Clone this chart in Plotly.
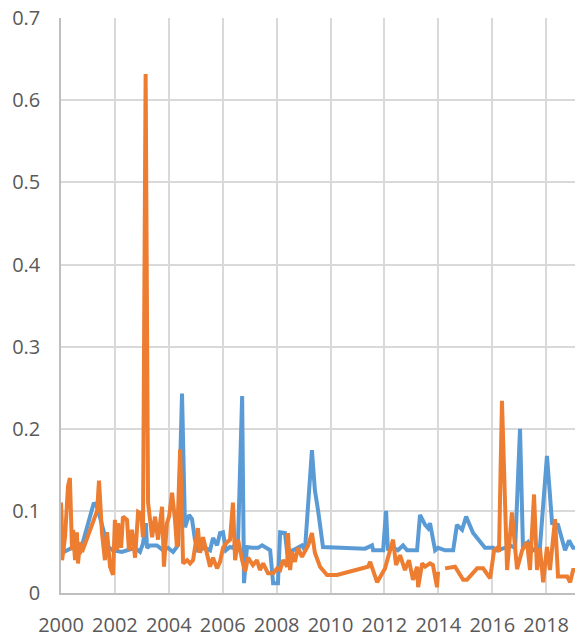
import plotly.graph_objects as go

blue_x = [2000.00, 2000.04, 2000.11, 2000.22, 2000.41, 2000.71, 2001.22, 2001.34, 2001.74, 2001.93,
          2002.26, 2002.75, 2002.93, 2003.04, 2003.15, 2003.19, 2003.30, 2003.56, 2003.79, 2003.97,
          2004.16, 2004.34, 2004.49, 2004.60, 2004.75, 2004.86, 2004.97, 2005.08, 2005.34, 2005.53,
          2005.64, 2005.79, 2005.90, 2006.01, 2006.12, 2006.27, 2006.38, 2006.57, 2006.72, 2006.79,
          2006.90, 2007.09, 2007.31, 2007.46, 2007.64, 2007.76, 2007.87, 2008.05, 2008.13, 2008.31,
          2008.39, 2008.61, 2008.94, 2009.05, 2009.31, 2009.42, 2009.54, 2009.72, 2011.28, 2011.54,
          2011.58, 2011.95, 2012.06, 2012.13, 2012.28, 2012.50, 2012.69, 2012.84, 2013.21, 2013.32,
          2013.51, 2013.62, 2013.69, 2013.88, 2013.99, 2014.25, 2014.55, 2014.69, 2014.88, 2015.03,
          2015.29, 2015.73, 2016.03, 2016.18, 2016.47, 2016.66, 2016.85, 2017.03, 2017.14, 2017.33,
          2017.51, 2017.77, 2018.03, 2018.22, 2018.44, 2018.70, 2018.85, 2019.00, 2019.07]
blue_y = [0.110, 0.065, 0.050, 0.052, 0.055, 0.050, 0.110, 0.105, 0.056, 0.052,
          0.050, 0.055, 0.050, 0.060, 0.085, 0.055, 0.058, 0.058, 0.052, 0.055,
          0.050, 0.058, 0.243, 0.080, 0.095, 0.090, 0.065, 0.052, 0.055, 0.052,
          0.067, 0.058, 0.073, 0.074, 0.052, 0.056, 0.055, 0.065, 0.240, 0.012,
          0.056, 0.055, 0.055, 0.058, 0.055, 0.052, 0.012, 0.012, 0.074, 0.073,
          0.050, 0.052, 0.058, 0.052, 0.174, 0.125, 0.100, 0.056, 0.054, 0.058,
          0.052, 0.052, 0.100, 0.052, 0.056, 0.052, 0.058, 0.052, 0.052, 0.095,
          0.083, 0.079, 0.085, 0.052, 0.055, 0.052, 0.052, 0.083, 0.077, 0.093,
          0.073, 0.055, 0.055, 0.052, 0.055, 0.058, 0.055, 0.200, 0.055, 0.062,
          0.052, 0.056, 0.167, 0.085, 0.083, 0.052, 0.064, 0.055, 0.055]

orange_x = [2000.00, 2000.04, 2000.15, 2000.26, 2000.33, 2000.41, 2000.45, 2000.52, 2000.59, 2000.63,
            2000.71, 2000.78, 2001.34, 2001.41, 2001.52, 2001.63, 2001.71, 2001.82, 2001.93, 2002.00,
            2002.08, 2002.12, 2002.23, 2002.30, 2002.45, 2002.52, 2002.63, 2002.75, 2002.86, 2002.97,
            2003.04, 2003.14, 2003.23, 2003.38, 2003.49, 2003.60, 2003.75, 2003.82, 2003.93, 2004.01,
            2004.12, 2004.23, 2004.30, 2004.42, 2004.53, 2004.68, 2004.79, 2004.90, 2005.08, 2005.16,
            2005.27, 2005.38, 2005.45, 2005.53, 2005.64, 2005.79, 2005.90, 2006.01, 2006.16, 2006.27,
            2006.38, 2006.46, 2006.57, 2006.72, 2006.83, 2006.94, 2007.12, 2007.27, 2007.38, 2007.50,
            2007.68, 2007.87, 2008.02, 2008.13, 2008.24, 2008.39, 2008.42, 2008.50, 2008.57, 2008.68,
            2008.79, 2008.94, 2009.05, 2009.17, 2009.31, 2009.42, 2009.61, 2009.87, 2010.24, 2011.39,
            2011.47, 2011.73, 2012.02, 2012.32, 2012.43, 2012.58, 2012.76, 2012.91, 2013.06, 2013.21,
            2013.25, 2013.40, 2013.51, 2013.69, 2013.80, 2013.88, 2013.95, 2013.99, 2014.12, 2014.25,
            2014.62, 2014.92, 2015.06, 2015.44, 2015.66, 2015.92, 2016.07, 2016.18, 2016.25, 2016.36,
            2016.55, 2016.73, 2016.92, 2017.11, 2017.29, 2017.40, 2017.55, 2017.66, 2017.77, 2017.89,
            2018.03, 2018.14, 2018.33, 2018.44, 2018.78, 2018.89, 2019.00, 2019.07]
orange_y = [0.110, 0.040, 0.068, 0.130, 0.140, 0.052, 0.077, 0.040, 0.074, 0.036,
            0.062, 0.050, 0.100, 0.137, 0.073, 0.040, 0.074, 0.032, 0.022, 0.089,
            0.052, 0.085, 0.055, 0.093, 0.089, 0.052, 0.077, 0.043, 0.099, 0.097,
            0.068, 0.632, 0.110, 0.068, 0.093, 0.065, 0.105, 0.032, 0.085, 0.093,
            0.122, 0.089, 0.056, 0.175, 0.036, 0.040, 0.036, 0.040, 0.079, 0.049,
            0.068, 0.050, 0.043, 0.032, 0.043, 0.030, 0.038, 0.055, 0.062, 0.065,
            0.110, 0.040, 0.065, 0.040, 0.026, 0.043, 0.034, 0.040, 0.028, 0.036,
            0.024, 0.024, 0.030, 0.028, 0.040, 0.032, 0.073, 0.028, 0.050, 0.038,
            0.055, 0.044, 0.052, 0.058, 0.073, 0.049, 0.032, 0.022, 0.022, 0.032,
            0.038, 0.013, 0.030, 0.065, 0.034, 0.046, 0.028, 0.040, 0.016, 0.032,
            0.007, 0.036, 0.032, 0.036, 0.034, 0.020, 0.007, 0.026, None, 0.030,
            0.032, 0.016, 0.016, 0.030, 0.030, 0.018, 0.052, 0.055, 0.050, 0.234,
            0.028, 0.098, 0.029, 0.052, 0.062, 0.028, 0.120, 0.028, 0.055, 0.013,
            0.056, 0.028, 0.090, 0.020, 0.020, 0.013, 0.028, 0.028]

y_ticks = [0, 0.1, 0.2, 0.3, 0.4, 0.5, 0.6, 0.7]
y_tick_labels = ["0", "0.1", "0.2", "0.3", "0.4", "0.5", "0.6", "0.7"]
x_ticks = [2000, 2002, 2004, 2006, 2008, 2010, 2012, 2014, 2016, 2018]
x_tick_labels = [str(v) for v in x_ticks]

fig = go.Figure()
fig.add_trace(go.Scatter(x=blue_x, y=blue_y, mode="lines",
                         line=dict(color="#5B9BD5", width=4), connectgaps=False))
fig.add_trace(go.Scatter(x=orange_x, y=orange_y, mode="lines",
                         line=dict(color="#ED7D31", width=4), connectgaps=False))

fig.update_layout(
    width=580, height=637,
    margin=dict(l=61, r=5, t=18, b=44),
    paper_bgcolor="white", plot_bgcolor="white",
    showlegend=False,
    font=dict(family="Open Sans", color="#595959"),
)
fig.update_xaxes(range=[2000, 2019.07], tickmode="array", tickvals=x_ticks, ticktext=x_tick_labels,
                 showgrid=True, gridcolor="#D9D9D9", gridwidth=1.5,
                 showline=True, linecolor="#BFBFBF", linewidth=1.5,
                 zeroline=False, ticks="", tickfont=dict(size=20, color="#595959"),
                 ticklabelstandoff=13, automargin=False, ticklabeloverflow="allow")
fig.update_yaxes(range=[0, 0.7003], tickmode="array", tickvals=y_ticks, ticktext=y_tick_labels,
                 showgrid=True, gridcolor="#D9D9D9", gridwidth=1.5,
                 showline=True, linecolor="#BFBFBF", linewidth=1.5,
                 zeroline=False, ticks="", tickfont=dict(size=20, color="#595959"),
                 ticklabelstandoff=15, automargin=False, ticklabeloverflow="allow")

fig.write_html("out.html", config={"displayModeBar": False},
               post_script="document.body.style.margin='0';document.body.style.overflow='hidden';")
